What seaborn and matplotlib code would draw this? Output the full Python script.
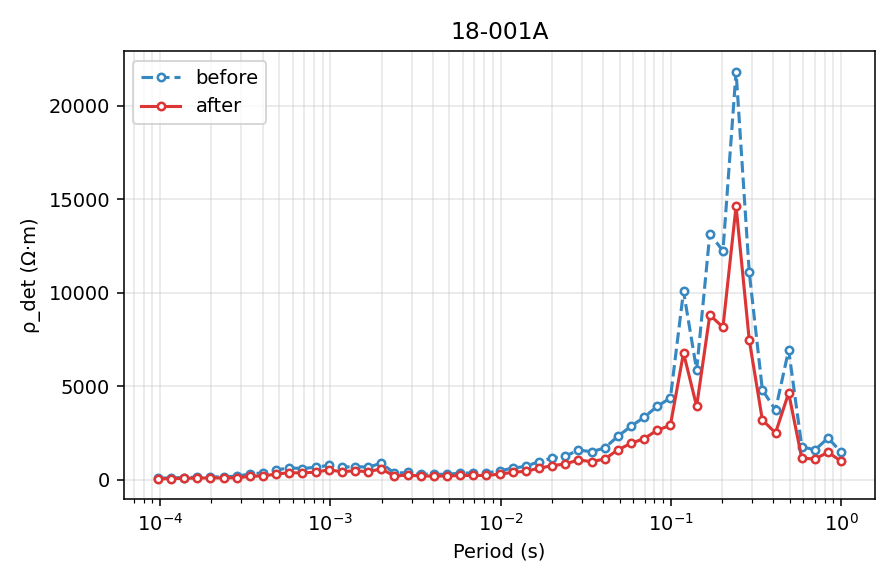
import matplotlib
matplotlib.use("Agg")
import matplotlib.pyplot as plt
import seaborn as sb
import numpy as np
import pandas as pd

title = "18-001A"

# periods (s), evenly spaced in log, ~13 per decade
period = [9.68e-5, 1.156e-4, 1.381e-4, 1.650e-4, 1.971e-4, 2.355e-4, 2.813e-4,
          3.360e-4, 4.013e-4, 4.794e-4, 5.727e-4, 6.841e-4, 8.172e-4, 9.761e-4,
          1.166e-3, 1.393e-3, 1.664e-3, 1.988e-3, 2.374e-3, 2.836e-3, 3.388e-3,
          4.046e-3, 4.833e-3, 5.774e-3, 6.897e-3, 8.238e-3, 9.840e-3, 1.175e-2,
          1.404e-2, 1.677e-2, 2.003e-2, 2.392e-2, 2.858e-2, 3.414e-2, 4.078e-2,
          4.871e-2, 5.818e-2, 6.950e-2, 8.302e-2, 9.920e-2, 0.1185, 0.1415,
          0.1691, 0.2020, 0.2412, 0.2882, 0.3442, 0.4112, 0.4912, 0.5867,
          0.7009, 0.8372, 1.0]

before = [100, 110, 130, 150, 160, 170, 200, 320, 380, 530, 650, 610, 680, 780,
          680, 720, 680, 900, 360, 400, 310, 310, 300, 370, 370, 370, 490, 630,
          730, 980, 1170, 1270, 1600, 1510, 1710, 2330, 2870, 3350, 3940, 4380,
          10090, 5880, 13160, 12250, 21840, 11110, 4815, 3745, 6955, 1780, 1605,
          2245, 1480]

after = [60, 70, 90, 100, 110, 110, 120, 190, 220, 310, 390, 375, 420, 540,
         445, 490, 445, 590, 210, 260, 210, 210, 210, 240, 240, 240, 310, 410,
         465, 625, 765, 855, 1070, 980, 1120, 1605, 1960, 2210, 2660, 2920,
         6790, 3940, 8825, 8165, 14640, 7490, 3210, 2515, 4655, 1160, 1125,
         1480, 1000]

df = pd.DataFrame({"period": period, "before": before, "after": after})

fig = plt.figure(figsize=(6.4, 4.2), dpi=140)
ax = fig.add_axes([0.138, 0.151, 0.839, 0.762])

sb.lineplot(data=df, x="period", y="before", ax=ax, color="#3787c0",
            linestyle="--", linewidth=1.6, marker="o", markersize=3.8,
            markerfacecolor="white", markeredgewidth=1.3,
            markeredgecolor="#3787c0", label="before")
sb.lineplot(data=df, x="period", y="after", ax=ax, color="#dc3535",
            linestyle="-", linewidth=1.6, marker="o", markersize=3.8,
            markerfacecolor="white", markeredgewidth=1.3,
            markeredgecolor="#dc3535", label="after")

ax.set_xscale("log")
ax.grid(True, which="both", color="#cccccc", alpha=0.5, linewidth=0.8)
ax.set_title(title, fontsize=12)
ax.set_xlabel("Period (s)")
ax.set_ylabel("ρ_det (Ω·m)")
ax.legend(loc="upper left")

fig.savefig("out.png", dpi=140)
